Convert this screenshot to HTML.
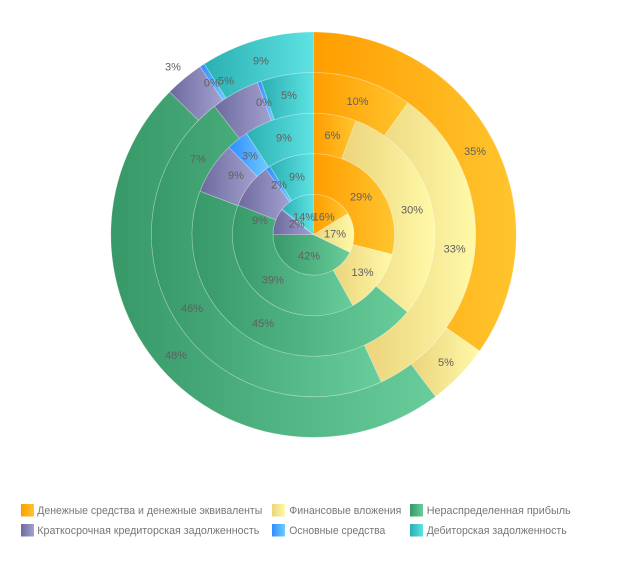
<!DOCTYPE html>
<html>
<head>
<meta charset="utf-8">
<style>
html,body{margin:0;padding:0;background:#fff;}
svg{display:block;}
.l{font-family:"Liberation Sans","DejaVu Sans",sans-serif;font-size:11px;fill:#606060;text-anchor:middle;}
.lg{font-family:"Liberation Sans","DejaVu Sans",sans-serif;font-size:11px;fill:#767676;}
</style>
</head>
<body>
<svg width="630" height="578" viewBox="0 0 630 578" xmlns="http://www.w3.org/2000/svg">
<defs>
<linearGradient id="gO" x1="0" y1="0" x2="1" y2="0"><stop offset="0" stop-color="#FF9D00"/><stop offset="1" stop-color="#FFC52E"/></linearGradient>
<linearGradient id="gY" x1="0" y1="0" x2="1" y2="0"><stop offset="0" stop-color="#EBD47C"/><stop offset="1" stop-color="#FFF9A8"/></linearGradient>
<linearGradient id="gG" x1="0" y1="0" x2="1" y2="0"><stop offset="0" stop-color="#379868"/><stop offset="1" stop-color="#68CD9B"/></linearGradient>
<linearGradient id="gP" x1="0" y1="0" x2="1" y2="0"><stop offset="0" stop-color="#6D699E"/><stop offset="1" stop-color="#A3A1D0"/></linearGradient>
<linearGradient id="gB" x1="0" y1="0" x2="1" y2="0"><stop offset="0" stop-color="#2F8CFF"/><stop offset="1" stop-color="#70CBFF"/></linearGradient>
<linearGradient id="gT" x1="0" y1="0" x2="1" y2="0"><stop offset="0" stop-color="#2BB0B2"/><stop offset="1" stop-color="#5EE2E2"/></linearGradient>
</defs>

<g stroke="rgba(255,255,255,0.32)" stroke-width="0.7">
<!-- R0 pie -->
<path fill="url(#gO)" d="M313.5,234.7 L313.5,194.2 A40.5,40.5 0 0 1 348.03,213.54 Z"/>
<path fill="url(#gY)" d="M313.5,234.7 L348.03,213.54 A40.5,40.5 0 0 1 349.90,252.46 Z"/>
<path fill="url(#gG)" d="M313.5,234.7 L349.90,252.46 A40.5,40.5 0 0 1 273.0,234.7 Z"/>
<path fill="url(#gP)" d="M313.5,234.7 L273.0,234.7 A40.5,40.5 0 0 1 281.59,209.76 Z"/>
<path fill="url(#gB)" d="M313.5,234.7 L281.59,209.76 A40.5,40.5 0 0 1 282.29,208.89 Z"/>
<path fill="url(#gT)" d="M313.5,234.7 L282.29,208.89 A40.5,40.5 0 0 1 313.5,194.2 Z"/>

<!-- R1 -->
<path fill="url(#gO)" d="M313.5,153.6 A81.1,81.1 0 0 1 392.19,254.32 L352.80,244.50 A40.5,40.5 0 0 0 313.5,194.2 Z"/>
<path fill="url(#gY)" d="M392.19,254.32 A81.1,81.1 0 0 1 352.82,305.63 L333.13,270.12 A40.5,40.5 0 0 0 352.80,244.50 Z"/>
<path fill="url(#gG)" d="M352.82,305.63 A81.1,81.1 0 0 1 238.04,204.98 L275.82,219.86 A40.5,40.5 0 0 0 333.13,270.12 Z"/>
<path fill="url(#gP)" d="M238.04,204.98 A81.1,81.1 0 0 1 265.83,169.09 L289.69,201.94 A40.5,40.5 0 0 0 275.82,219.86 Z"/>
<path fill="url(#gB)" d="M265.83,169.09 A81.1,81.1 0 0 1 269.93,166.30 L291.74,200.54 A40.5,40.5 0 0 0 289.69,201.94 Z"/>
<path fill="url(#gT)" d="M269.93,166.30 A81.1,81.1 0 0 1 313.5,153.6 L313.5,194.2 A40.5,40.5 0 0 0 291.74,200.54 Z"/>

<!-- R2 -->
<path fill="url(#gO)" d="M313.5,113.1 A121.6,121.6 0 0 1 356.08,120.80 L341.90,158.73 A81.1,81.1 0 0 0 313.5,153.6 Z"/>
<path fill="url(#gY)" d="M356.08,120.80 A121.6,121.6 0 0 1 407.33,312.05 L376.08,286.29 A81.1,81.1 0 0 0 341.90,158.73 Z"/>
<path fill="url(#gG)" d="M407.33,312.05 A121.6,121.6 0 0 1 199.97,191.12 L237.79,205.63 A81.1,81.1 0 0 0 376.08,286.29 Z"/>
<path fill="url(#gP)" d="M199.97,191.12 A121.6,121.6 0 0 1 229.02,147.23 L257.16,176.36 A81.1,81.1 0 0 0 237.79,205.63 Z"/>
<path fill="url(#gB)" d="M229.02,147.23 A121.6,121.6 0 0 1 246.39,133.30 L268.74,167.07 A81.1,81.1 0 0 0 257.16,176.36 Z"/>
<path fill="url(#gT)" d="M246.39,133.30 A121.6,121.6 0 0 1 313.5,113.1 L313.5,153.6 A81.1,81.1 0 0 0 268.74,167.07 Z"/>

<!-- R3 -->
<path fill="url(#gO)" d="M313.5,72.5 A162.2,162.2 0 0 1 407.92,102.82 L384.28,135.83 A121.6,121.6 0 0 0 313.5,113.1 Z"/>
<path fill="url(#gY)" d="M407.92,102.82 A162.2,162.2 0 0 1 381.28,382.06 L364.32,345.17 A121.6,121.6 0 0 0 384.28,135.83 Z"/>
<path fill="url(#gG)" d="M381.28,382.06 A162.2,162.2 0 0 1 214.54,106.19 L239.31,138.36 A121.6,121.6 0 0 0 364.32,345.17 Z"/>
<path fill="url(#gP)" d="M214.54,106.19 A162.2,162.2 0 0 1 257.49,82.48 L271.51,120.58 A121.6,121.6 0 0 0 239.31,138.36 Z"/>
<path fill="url(#gB)" d="M257.49,82.48 A162.2,162.2 0 0 1 261.22,81.16 L274.31,119.59 A121.6,121.6 0 0 0 271.51,120.58 Z"/>
<path fill="url(#gT)" d="M261.22,81.16 A162.2,162.2 0 0 1 313.5,72.5 L313.5,113.1 A121.6,121.6 0 0 0 274.31,119.59 Z"/>

<!-- R4 -->
<path fill="url(#gO)" d="M313.5,32.0 A202.7,202.7 0 0 1 479.55,350.97 L446.37,327.74 A162.2,162.2 0 0 0 313.5,72.5 Z"/>
<path fill="url(#gY)" d="M479.55,350.97 A202.7,202.7 0 0 1 435.48,396.58 L411.11,364.23 A162.2,162.2 0 0 0 446.37,327.74 Z"/>
<path fill="url(#gG)" d="M435.48,396.58 A202.7,202.7 0 0 1 169.66,91.88 L198.40,120.41 A162.2,162.2 0 0 0 411.11,364.23 Z"/>
<path fill="url(#gP)" d="M169.66,91.88 A202.7,202.7 0 0 1 200.15,66.66 L222.80,100.24 A162.2,162.2 0 0 0 198.40,120.41 Z"/>
<path fill="url(#gB)" d="M200.15,66.66 A202.7,202.7 0 0 1 204.29,63.93 L226.11,98.05 A162.2,162.2 0 0 0 222.80,100.24 Z"/>
<path fill="url(#gT)" d="M204.29,63.93 A202.7,202.7 0 0 1 313.5,32.0 L313.5,72.5 A162.2,162.2 0 0 0 226.11,98.05 Z"/>
</g>

<!-- labels -->
<g class="l">
<text x="475" y="155">35%</text>
<text x="446" y="366">5%</text>
<text x="176" y="359">48%</text>
<text x="173" y="70.7">3%</text>
<text x="211.7" y="86.7">0%</text>
<text x="226" y="84.3">5%</text>
<text x="261" y="64.3">9%</text>

<text x="357.5" y="105">10%</text>
<text x="454.7" y="252.7">33%</text>
<text x="192" y="312">46%</text>
<text x="198" y="162.3">7%</text>
<text x="264" y="106">0%</text>
<text x="289" y="99">5%</text>

<text x="332.5" y="139">6%</text>
<text x="412" y="213.3">30%</text>
<text x="263" y="327">45%</text>
<text x="236" y="179">9%</text>
<text x="250" y="159.3">3%</text>
<text x="284" y="141.7">9%</text>

<text x="361" y="200.7">29%</text>
<text x="362.5" y="276">13%</text>
<text x="272.8" y="283.3">39%</text>
<text x="260" y="224">9%</text>
<text x="279" y="188.3">2%</text>
<text x="297" y="180.3">9%</text>

<text x="304" y="220.7">14%</text>
<text x="323.7" y="220.7">16%</text>
<text x="335" y="237.3">17%</text>
<text x="309" y="259.3">42%</text>
<text x="296.7" y="227.3">2%</text>
</g>

<!-- legend -->
<rect x="21" y="504" width="13" height="12.5" fill="url(#gO)"/>
<text class="lg" x="37.3" y="514" textLength="225" lengthAdjust="spacingAndGlyphs">Денежные средства и денежные эквиваленты</text>
<rect x="272" y="504" width="13" height="12.5" fill="url(#gY)"/>
<text class="lg" x="289.3" y="514" textLength="112" lengthAdjust="spacingAndGlyphs">Финансовые вложения</text>
<rect x="410" y="504" width="13" height="12.5" fill="url(#gG)"/>
<text class="lg" x="426.7" y="514" textLength="144" lengthAdjust="spacingAndGlyphs">Нераспределенная прибыль</text>

<rect x="21" y="524" width="13" height="12.5" fill="url(#gP)"/>
<text class="lg" x="37.3" y="534" textLength="222" lengthAdjust="spacingAndGlyphs">Краткосрочная кредиторская задолженность</text>
<rect x="272" y="524" width="13" height="12.5" fill="url(#gB)"/>
<text class="lg" x="289.3" y="534" textLength="96" lengthAdjust="spacingAndGlyphs">Основные средства</text>
<rect x="410" y="524" width="13" height="12.5" fill="url(#gT)"/>
<text class="lg" x="426.7" y="534" textLength="140" lengthAdjust="spacingAndGlyphs">Дебиторская задолженность</text>
</svg>
</body>
</html>
